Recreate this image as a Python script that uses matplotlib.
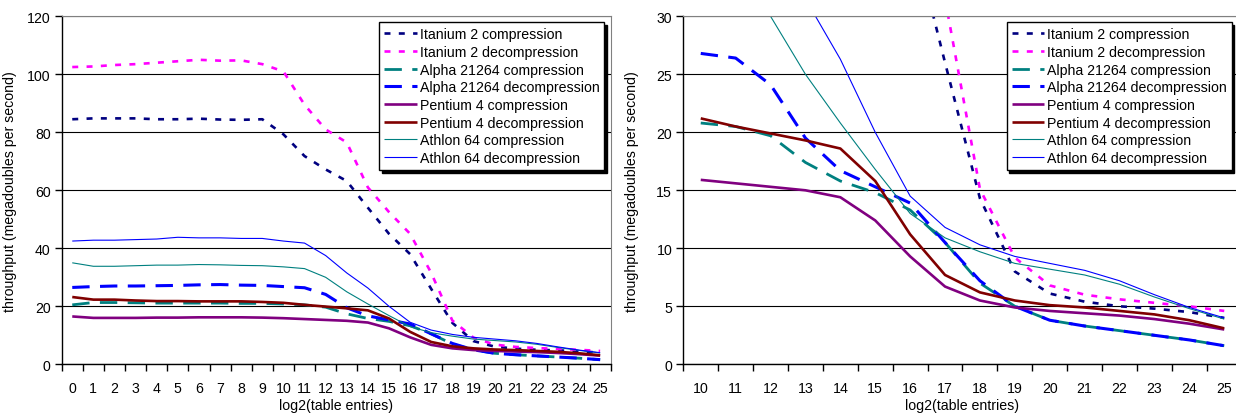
import matplotlib
matplotlib.use("Agg")
import matplotlib.pyplot as plt
from matplotlib.ticker import MultipleLocator, FixedLocator

plt.rcParams['font.family'] = ['Liberation Sans', 'DejaVu Sans']
plt.rcParams['lines.scale_dashes'] = False

# ---- data ----
log2_entries = list(range(0, 26))
series_names = [
    "Itanium 2 compression", "Itanium 2 decompression",
    "Alpha 21264 compression", "Alpha 21264 decompression",
    "Pentium 4 compression", "Pentium 4 decompression",
    "Athlon 64 compression", "Athlon 64 decompression",
]
itanium_comp = [84.5, 84.8, 84.8, 84.8, 84.5, 84.5, 84.7, 84.4, 84.3, 84.5, 79.3, 71.8, 67.2,
                63.2, 54.0, 45.0, 38.0, 26.0, 14.3, 8.0, 6.1, 5.4, 5.0, 4.8, 4.5, 4.0]
itanium_decomp = [102.5, 102.7, 103.2, 103.5, 104.0, 104.5, 105.0, 104.7, 104.8, 103.5, 101.0,
                  89.5, 81.0, 76.5, 61.0, 52.5, 45.0, 31.5, 15.1, 9.2, 6.8, 6.0, 5.6, 5.3, 5.0, 4.6]
alpha_comp = [20.5, 21.3, 21.3, 21.2, 21.1, 21.1, 21.1, 21.1, 21.0, 21.0, 20.8, 20.5, 19.7,
              17.4, 15.8, 14.8, 13.3, 10.5, 7.0, 5.0, 3.8, 3.3, 2.9, 2.5, 2.1, 1.6]
alpha_decomp = [26.5, 26.8, 27.0, 27.0, 27.1, 27.2, 27.4, 27.5, 27.3, 27.2, 26.8, 26.4, 24.1,
                19.5, 16.7, 15.3, 13.9, 10.5, 7.2, 5.0, 3.8, 3.3, 2.9, 2.5, 2.1, 1.6]
p4_comp = [16.5, 16.0, 16.0, 16.0, 16.1, 16.1, 16.2, 16.2, 16.2, 16.1, 15.9, 15.6, 15.3,
           15.0, 14.4, 12.4, 9.3, 6.7, 5.5, 4.9, 4.6, 4.4, 4.2, 3.9, 3.5, 3.0]
p4_decomp = [23.2, 22.3, 22.3, 22.0, 21.8, 21.8, 21.7, 21.7, 21.7, 21.5, 21.2, 20.5, 19.9,
             19.3, 18.6, 15.8, 11.2, 7.7, 6.2, 5.5, 5.1, 4.9, 4.6, 4.3, 3.8, 3.1]
athlon_comp = [35.0, 33.8, 33.8, 34.0, 34.2, 34.2, 34.4, 34.3, 34.1, 34.0, 33.6, 33.0, 30.0,
               25.0, 20.8, 16.8, 13.0, 10.9, 9.7, 8.7, 8.2, 7.7, 6.9, 5.8, 4.8, 3.9]
athlon_decomp = [42.5, 42.8, 42.8, 43.0, 43.2, 43.8, 43.6, 43.6, 43.4, 43.4, 42.5, 41.8, 37.5,
                 31.5, 26.3, 20.0, 14.5, 11.8, 10.3, 9.3, 8.7, 8.1, 7.2, 6.0, 4.9, 4.0]
all_series = [itanium_comp, itanium_decomp, alpha_comp, alpha_decomp,
              p4_comp, p4_decomp, athlon_comp, athlon_decomp]

styles = [
    dict(color="#000080", lw=1.9, dashes=(4.3, 6.0)),
    dict(color="#FF00FF", lw=1.9, dashes=(4.3, 6.0)),
    dict(color="#008080", lw=2.0, dashes=(12.5, 7.5)),
    dict(color="#0000FF", lw=2.2, dashes=(12.5, 7.5)),
    dict(color="#800080", lw=1.9),
    dict(color="#800000", lw=1.9),
    dict(color="#008080", lw=0.8),
    dict(color="#0000FF", lw=0.8),
]

W, H = 1236, 414
fig = plt.figure(figsize=(W / 100, H / 100), dpi=100)

def px_axes(x0, x1, ytop, ybot):
    return fig.add_axes([x0 / W, (H - ybot) / H, (x1 - x0) / W, (ybot - ytop) / H])

FS = 10.2
AX_TOP, AX_BOT = 17.3, 365.3
ax1 = px_axes(61.7, 610.7, AX_TOP, AX_BOT)
ax2 = px_axes(683.3, 1241.7, AX_TOP, AX_BOT)

def setup(ax, start, ymax, ystep):
    xs = log2_entries[start:]
    for name, vals, st in zip(series_names, all_series, styles):
        kw = dict(color=st["color"], lw=st["lw"], label=name, solid_capstyle="butt",
                  dash_capstyle="butt", solid_joinstyle="round")
        ln, = ax.plot(xs, vals[start:], **kw)
        if "dashes" in st:
            ln.set_dashes(st["dashes"])
    ax.set_xlim(xs[0] - 0.5, xs[-1] + 0.5)
    ax.set_ylim(0, ymax)
    ax.xaxis.set_major_locator(FixedLocator(xs))
    ax.xaxis.set_minor_locator(FixedLocator([x - 0.5 for x in xs] + [xs[-1] + 0.5]))
    ax.tick_params(axis="x", which="major", length=0, pad=12, labelsize=FS)
    ax.tick_params(axis="x", which="minor", length=5, width=1, direction="out")
    ax.yaxis.set_major_locator(MultipleLocator(ystep))
    ax.tick_params(axis="y", which="major", length=5, width=1, direction="out", labelsize=FS, pad=3)
    ax.grid(axis="y", color="black", lw=0.8)
    ax.set_axisbelow(True)
    for s in ["top", "right"]:
        ax.spines[s].set_color("#808080")
        ax.spines[s].set_linewidth(0.8)
    for s in ["left", "bottom"]:
        ax.spines[s].set_color("black")
        ax.spines[s].set_linewidth(1.0)
    ax.set_xlabel("log2(table entries)", fontsize=FS)
    ax.set_ylabel("throughput (megadoubles per second)", fontsize=FS)

setup(ax1, 0, 120, 20)
setup(ax2, 10, 30, 5)

def add_legend(ax, right_px, top_px, ax_x0, ax_x1):
    bx = (right_px - ax_x0) / (ax_x1 - ax_x0)
    by = (AX_BOT - top_px) / (AX_BOT - AX_TOP)
    leg = ax.legend(loc="upper right", bbox_to_anchor=(bx, by), borderaxespad=0,
                    fontsize=FS, frameon=True, fancybox=False,
                    shadow={"color": "black", "alpha": 1.0, "ox": 2, "oy": -2},
                    handlelength=2.3, handletextpad=0.2, labelspacing=0.26,
                    borderpad=0.35)
    fr = leg.get_frame()
    fr.set_edgecolor("black")
    fr.set_linewidth(1.0)
    fr.set_alpha(1.0)
    return leg

add_legend(ax1, 604.3, 23.3, 61.7, 610.7)
add_legend(ax2, 1231.7, 23.3, 683.3, 1241.7)

# axis-label placements (axes-fraction coordinates from pixel targets)
for ax, cx0, cx1, xlab_cx, ylab_cx in [(ax1, 61.7, 610.7, 336, 17),
                                       (ax2, 683.3, 1241.7, 962, 639)]:
    ax.xaxis.set_label_coords((xlab_cx - cx0) / (cx1 - cx0), -(406 - AX_BOT) / (AX_BOT - AX_TOP))
    ax.xaxis.label.set_va("center")
    ax.yaxis.set_label_coords((ylab_cx - cx0) / (cx1 - cx0), 0.5)

fig.savefig("out.png", dpi=100)
